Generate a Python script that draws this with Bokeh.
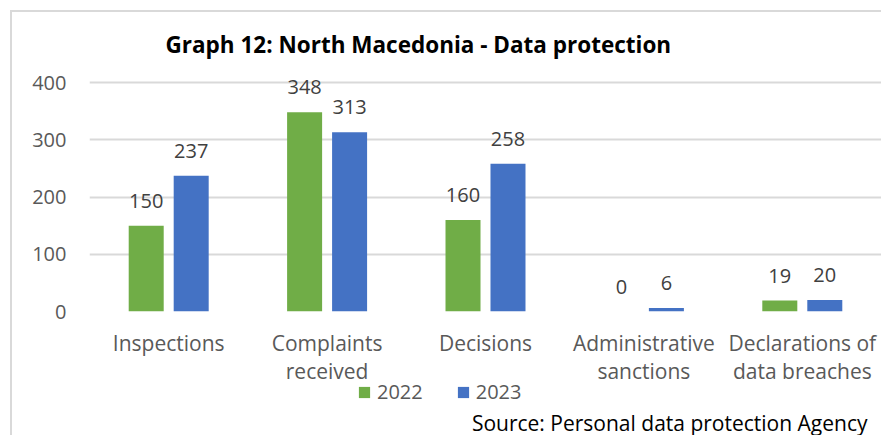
from bokeh.plotting import figure
from bokeh.models import FactorRange, Range1d, ColumnDataSource, Legend, LegendItem, Label
from bokeh.layouts import column
from bokeh.transform import dodge
from bokeh.core.properties import value
from bokeh.embed import file_html
from bokeh.resources import INLINE

categories = ["Inspections", "Complaints\nreceived", "Decisions",
              "Administrative\nsanctions", "Declarations of\ndata breaches"]
values_2022 = [150, 348, 160, 0, 19]
values_2023 = [237, 313, 258, 6, 20]
series = ["2022", "2023"]
y_ticks = [0, 100, 200, 300, 400]
title_text = "Graph 12: North Macedonia - Data protection"
source_text = "Source: Personal data protection Agency"

FONT = "Open Sans"
GREEN = "#70AD47"
BLUE = "#4472C4"
GRAY_TXT = "#595959"

src = ColumnDataSource(dict(
    cat=categories,
    v22=values_2022, v23=values_2023,
    l22=[str(v) for v in values_2022], l23=[str(v) for v in values_2023],
))

# ---------- main chart ----------
p = figure(width=869, height=379, output_backend="svg", toolbar_location=None,
           x_range=FactorRange(*categories, range_padding=0), y_range=Range1d(0, 421),
           min_border_left=77, min_border_right=0, min_border_top=58, min_border_bottom=80)
p.outline_line_color = None
p.background_fill_color = "white"
p.border_fill_color = "white"

p.title.text = title_text
p.title.align = "left"
p.title.offset = 76
p.title.standoff = 21
p.title.text_font = FONT
p.title.text_font_size = "22.5px"
p.title.text_font_style = "bold"
p.title.text_color = "#000000"

r1 = p.vbar(x=dodge("cat", -0.142, range=p.x_range), top="v22", width=0.221, source=src,
            fill_color=GREEN, line_color=None)
r2 = p.vbar(x=dodge("cat", 0.142, range=p.x_range), top="v23", width=0.221, source=src,
            fill_color=BLUE, line_color=None)

for col, lab, off in (("v22", "l22", -0.142), ("v23", "l23", 0.142)):
    p.text(x=dodge("cat", off, range=p.x_range), y=col, text=lab, source=src,
           text_align="center", text_baseline="alphabetic", y_offset=-25,
           text_font=value(FONT), text_font_size="20px", text_color="#404040")

p.xgrid.grid_line_color = None
p.ygrid.grid_line_color = "#d9d9d9"
p.ygrid.grid_line_width = 2

p.yaxis.ticker = y_ticks
p.yaxis.axis_line_color = None
p.yaxis.major_tick_line_color = None
p.yaxis.minor_tick_line_color = None
p.yaxis.major_tick_out = 0
p.yaxis.major_tick_in = 0
p.yaxis.major_label_standoff = 23
p.yaxis.major_label_text_font = FONT
p.yaxis.major_label_text_font_size = "20px"
p.yaxis.major_label_text_color = GRAY_TXT

p.xaxis.axis_line_color = None
p.xaxis.major_tick_line_color = None
p.xaxis.major_tick_out = 0
p.xaxis.major_tick_in = 0
p.xaxis.major_label_standoff = 17
p.xaxis.major_label_text_font = FONT
p.xaxis.major_label_text_font_size = "21px"
p.xaxis.major_label_text_color = GRAY_TXT
p.xaxis.major_label_text_line_height = 1.0

# ---------- legend + source strip ----------
p2 = figure(width=869, height=58, output_backend="svg", toolbar_location=None,
            x_range=Range1d(0, 1), y_range=Range1d(0, 1),
            x_axis_location=None, y_axis_location=None, margin=(-14, 0, 0, 0),
            min_border_left=0, min_border_right=0, min_border_top=0, min_border_bottom=0)
p2.outline_line_color = None
p2.grid.grid_line_color = None
p2.background_fill_alpha = 0
p2.border_fill_alpha = 0

dummy = ColumnDataSource(dict(x=[-5], top=[0]))
g1 = p2.vbar(x="x", top="top", width=0.1, source=dummy, fill_color=GREEN, line_color=None)
g2 = p2.vbar(x="x", top="top", width=0.1, source=dummy, fill_color=BLUE, line_color=None)

legend = Legend(items=[LegendItem(label=series[0], renderers=[g1]),
                       LegendItem(label=series[1], renderers=[g2])],
                orientation="horizontal", location=(268, 30),
                glyph_width=14, glyph_height=14, label_standoff=6, spacing=33,
                padding=0, margin=0, border_line_color=None, background_fill_alpha=0,
                label_text_font=FONT, label_text_font_size="20px", label_text_color=GRAY_TXT)
p2.add_layout(legend)

p2.add_layout(Label(x=778, y=13, x_units="screen", y_units="screen", text=source_text,
                    text_align="right", text_baseline="middle", text_font=FONT,
                    text_font_size="21px", text_color="#000000"))

layout = column(p, p2, spacing=0,
                styles={"margin-left": "10px", "margin-top": "10px",
                        "border-left": "2px solid #d9d9d9", "border-top": "2px solid #d9d9d9"})

open("out.html", "w").write(file_html(layout, INLINE))
